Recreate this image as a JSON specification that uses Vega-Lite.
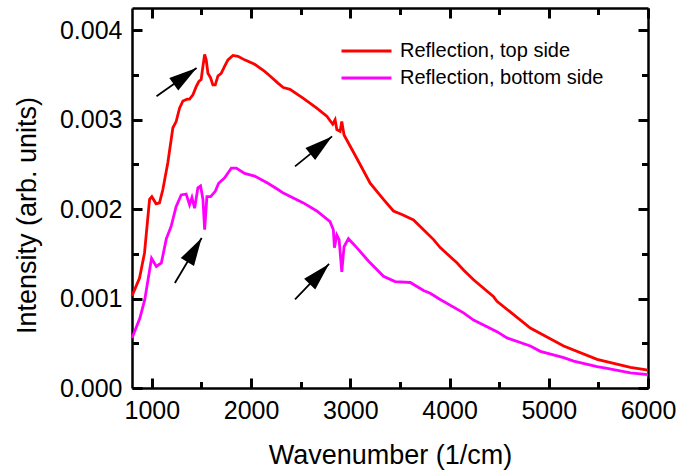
{
  "$schema": "https://vega.github.io/schema/vega-lite/v6.json",
  "width": 516,
  "height": 380,
  "autosize": {"type": "none"},
  "padding": {"left": 132, "top": 8, "right": 30, "bottom": 83},
  "background": "white",
  "config": {
    "view": {"stroke": null},
    "font": "Liberation Sans",
    "axis": {
      "labelFont": "Liberation Sans",
      "titleFont": "Liberation Sans",
      "labelColor": "black",
      "titleColor": "black",
      "titleFontWeight": "normal",
      "domainColor": "black",
      "domainWidth": 2.5,
      "grid": false,
      "labelOverlap": false,
      "labelFlush": false
    }
  },
  "datasets": {
    "spectra": [
      {"wavenumber": 800, "intensity": 0.00103, "series": "Reflection, top side"},
      {"wavenumber": 876, "intensity": 0.00123, "series": "Reflection, top side"},
      {"wavenumber": 926, "intensity": 0.00151, "series": "Reflection, top side"},
      {"wavenumber": 977, "intensity": 0.00211, "series": "Reflection, top side"},
      {"wavenumber": 1000, "intensity": 0.00214, "series": "Reflection, top side"},
      {"wavenumber": 1043, "intensity": 0.00206, "series": "Reflection, top side"},
      {"wavenumber": 1077, "intensity": 0.00207, "series": "Reflection, top side"},
      {"wavenumber": 1111, "intensity": 0.00222, "series": "Reflection, top side"},
      {"wavenumber": 1161, "intensity": 0.00252, "series": "Reflection, top side"},
      {"wavenumber": 1212, "intensity": 0.00291, "series": "Reflection, top side"},
      {"wavenumber": 1245, "intensity": 0.00298, "series": "Reflection, top side"},
      {"wavenumber": 1279, "intensity": 0.00313, "series": "Reflection, top side"},
      {"wavenumber": 1313, "intensity": 0.00321, "series": "Reflection, top side"},
      {"wavenumber": 1356, "intensity": 0.00323, "series": "Reflection, top side"},
      {"wavenumber": 1380, "intensity": 0.00323, "series": "Reflection, top side"},
      {"wavenumber": 1414, "intensity": 0.00328, "series": "Reflection, top side"},
      {"wavenumber": 1447, "intensity": 0.00337, "series": "Reflection, top side"},
      {"wavenumber": 1474, "intensity": 0.00343, "series": "Reflection, top side"},
      {"wavenumber": 1497, "intensity": 0.00345, "series": "Reflection, top side"},
      {"wavenumber": 1515, "intensity": 0.0036, "series": "Reflection, top side"},
      {"wavenumber": 1532, "intensity": 0.00373, "series": "Reflection, top side"},
      {"wavenumber": 1548, "intensity": 0.00367, "series": "Reflection, top side"},
      {"wavenumber": 1565, "intensity": 0.00352, "series": "Reflection, top side"},
      {"wavenumber": 1592, "intensity": 0.00347, "series": "Reflection, top side"},
      {"wavenumber": 1615, "intensity": 0.00339, "series": "Reflection, top side"},
      {"wavenumber": 1639, "intensity": 0.00339, "series": "Reflection, top side"},
      {"wavenumber": 1666, "intensity": 0.00349, "series": "Reflection, top side"},
      {"wavenumber": 1699, "intensity": 0.00352, "series": "Reflection, top side"},
      {"wavenumber": 1734, "intensity": 0.0036, "series": "Reflection, top side"},
      {"wavenumber": 1767, "intensity": 0.00367, "series": "Reflection, top side"},
      {"wavenumber": 1817, "intensity": 0.00372, "series": "Reflection, top side"},
      {"wavenumber": 1868, "intensity": 0.00371, "series": "Reflection, top side"},
      {"wavenumber": 1935, "intensity": 0.00367, "series": "Reflection, top side"},
      {"wavenumber": 2036, "intensity": 0.00362, "series": "Reflection, top side"},
      {"wavenumber": 2137, "intensity": 0.00354, "series": "Reflection, top side"},
      {"wavenumber": 2191, "intensity": 0.00349, "series": "Reflection, top side"},
      {"wavenumber": 2271, "intensity": 0.00341, "series": "Reflection, top side"},
      {"wavenumber": 2325, "intensity": 0.00336, "series": "Reflection, top side"},
      {"wavenumber": 2392, "intensity": 0.00334, "series": "Reflection, top side"},
      {"wavenumber": 2527, "intensity": 0.00324, "series": "Reflection, top side"},
      {"wavenumber": 2662, "intensity": 0.00313, "series": "Reflection, top side"},
      {"wavenumber": 2763, "intensity": 0.00304, "series": "Reflection, top side"},
      {"wavenumber": 2823, "intensity": 0.00295, "series": "Reflection, top side"},
      {"wavenumber": 2847, "intensity": 0.003, "series": "Reflection, top side"},
      {"wavenumber": 2864, "intensity": 0.00289, "series": "Reflection, top side"},
      {"wavenumber": 2897, "intensity": 0.00287, "series": "Reflection, top side"},
      {"wavenumber": 2914, "intensity": 0.00298, "series": "Reflection, top side"},
      {"wavenumber": 2937, "intensity": 0.00283, "series": "Reflection, top side"},
      {"wavenumber": 2981, "intensity": 0.00274, "series": "Reflection, top side"},
      {"wavenumber": 3065, "intensity": 0.00257, "series": "Reflection, top side"},
      {"wavenumber": 3200, "intensity": 0.00229, "series": "Reflection, top side"},
      {"wavenumber": 3334, "intensity": 0.00211, "series": "Reflection, top side"},
      {"wavenumber": 3435, "intensity": 0.00198, "series": "Reflection, top side"},
      {"wavenumber": 3520, "intensity": 0.00194, "series": "Reflection, top side"},
      {"wavenumber": 3637, "intensity": 0.00188, "series": "Reflection, top side"},
      {"wavenumber": 3738, "intensity": 0.00177, "series": "Reflection, top side"},
      {"wavenumber": 3839, "intensity": 0.00166, "series": "Reflection, top side"},
      {"wavenumber": 3906, "intensity": 0.00157, "series": "Reflection, top side"},
      {"wavenumber": 4074, "intensity": 0.0014, "series": "Reflection, top side"},
      {"wavenumber": 4141, "intensity": 0.00132, "series": "Reflection, top side"},
      {"wavenumber": 4242, "intensity": 0.00121, "series": "Reflection, top side"},
      {"wavenumber": 4444, "intensity": 0.00102, "series": "Reflection, top side"},
      {"wavenumber": 4478, "intensity": 0.00097, "series": "Reflection, top side"},
      {"wavenumber": 4646, "intensity": 0.00082, "series": "Reflection, top side"},
      {"wavenumber": 4814, "intensity": 0.00067, "series": "Reflection, top side"},
      {"wavenumber": 5150, "intensity": 0.00047, "series": "Reflection, top side"},
      {"wavenumber": 5487, "intensity": 0.00032, "series": "Reflection, top side"},
      {"wavenumber": 5823, "intensity": 0.00023, "series": "Reflection, top side"},
      {"wavenumber": 6000, "intensity": 0.0002, "series": "Reflection, top side"},

      {"wavenumber": 800, "intensity": 0.00056, "series": "Reflection, bottom side"},
      {"wavenumber": 879, "intensity": 0.00078, "series": "Reflection, bottom side"},
      {"wavenumber": 929, "intensity": 0.00099, "series": "Reflection, bottom side"},
      {"wavenumber": 997, "intensity": 0.00145, "series": "Reflection, bottom side"},
      {"wavenumber": 1045, "intensity": 0.00136, "series": "Reflection, bottom side"},
      {"wavenumber": 1096, "intensity": 0.0014, "series": "Reflection, bottom side"},
      {"wavenumber": 1146, "intensity": 0.00167, "series": "Reflection, bottom side"},
      {"wavenumber": 1195, "intensity": 0.00181, "series": "Reflection, bottom side"},
      {"wavenumber": 1245, "intensity": 0.00203, "series": "Reflection, bottom side"},
      {"wavenumber": 1296, "intensity": 0.00216, "series": "Reflection, bottom side"},
      {"wavenumber": 1346, "intensity": 0.00217, "series": "Reflection, bottom side"},
      {"wavenumber": 1380, "intensity": 0.00205, "series": "Reflection, bottom side"},
      {"wavenumber": 1404, "intensity": 0.00213, "series": "Reflection, bottom side"},
      {"wavenumber": 1431, "intensity": 0.00201, "series": "Reflection, bottom side"},
      {"wavenumber": 1464, "intensity": 0.00224, "series": "Reflection, bottom side"},
      {"wavenumber": 1491, "intensity": 0.00226, "series": "Reflection, bottom side"},
      {"wavenumber": 1515, "intensity": 0.00211, "series": "Reflection, bottom side"},
      {"wavenumber": 1532, "intensity": 0.00177, "series": "Reflection, bottom side"},
      {"wavenumber": 1555, "intensity": 0.00214, "series": "Reflection, bottom side"},
      {"wavenumber": 1592, "intensity": 0.00214, "series": "Reflection, bottom side"},
      {"wavenumber": 1639, "intensity": 0.0022, "series": "Reflection, bottom side"},
      {"wavenumber": 1673, "intensity": 0.00229, "series": "Reflection, bottom side"},
      {"wavenumber": 1734, "intensity": 0.00235, "series": "Reflection, bottom side"},
      {"wavenumber": 1801, "intensity": 0.00246, "series": "Reflection, bottom side"},
      {"wavenumber": 1851, "intensity": 0.00246, "series": "Reflection, bottom side"},
      {"wavenumber": 1935, "intensity": 0.0024, "series": "Reflection, bottom side"},
      {"wavenumber": 2036, "intensity": 0.00237, "series": "Reflection, bottom side"},
      {"wavenumber": 2170, "intensity": 0.00229, "series": "Reflection, bottom side"},
      {"wavenumber": 2271, "intensity": 0.00222, "series": "Reflection, bottom side"},
      {"wavenumber": 2325, "intensity": 0.00218, "series": "Reflection, bottom side"},
      {"wavenumber": 2527, "intensity": 0.00207, "series": "Reflection, bottom side"},
      {"wavenumber": 2662, "intensity": 0.00198, "series": "Reflection, bottom side"},
      {"wavenumber": 2796, "intensity": 0.00186, "series": "Reflection, bottom side"},
      {"wavenumber": 2829, "intensity": 0.00177, "series": "Reflection, bottom side"},
      {"wavenumber": 2840, "intensity": 0.00157, "series": "Reflection, bottom side"},
      {"wavenumber": 2864, "intensity": 0.00171, "series": "Reflection, bottom side"},
      {"wavenumber": 2887, "intensity": 0.00166, "series": "Reflection, bottom side"},
      {"wavenumber": 2914, "intensity": 0.0013, "series": "Reflection, bottom side"},
      {"wavenumber": 2937, "intensity": 0.00158, "series": "Reflection, bottom side"},
      {"wavenumber": 2981, "intensity": 0.00167, "series": "Reflection, bottom side"},
      {"wavenumber": 3065, "intensity": 0.00157, "series": "Reflection, bottom side"},
      {"wavenumber": 3167, "intensity": 0.00144, "series": "Reflection, bottom side"},
      {"wavenumber": 3200, "intensity": 0.0014, "series": "Reflection, bottom side"},
      {"wavenumber": 3334, "intensity": 0.00125, "series": "Reflection, bottom side"},
      {"wavenumber": 3452, "intensity": 0.00119, "series": "Reflection, bottom side"},
      {"wavenumber": 3604, "intensity": 0.00118, "series": "Reflection, bottom side"},
      {"wavenumber": 3738, "intensity": 0.00109, "series": "Reflection, bottom side"},
      {"wavenumber": 3805, "intensity": 0.00106, "series": "Reflection, bottom side"},
      {"wavenumber": 3906, "intensity": 0.00099, "series": "Reflection, bottom side"},
      {"wavenumber": 4141, "intensity": 0.00084, "series": "Reflection, bottom side"},
      {"wavenumber": 4242, "intensity": 0.00076, "series": "Reflection, bottom side"},
      {"wavenumber": 4478, "intensity": 0.00063, "series": "Reflection, bottom side"},
      {"wavenumber": 4579, "intensity": 0.00056, "series": "Reflection, bottom side"},
      {"wavenumber": 4814, "intensity": 0.00047, "series": "Reflection, bottom side"},
      {"wavenumber": 4915, "intensity": 0.00041, "series": "Reflection, bottom side"},
      {"wavenumber": 5150, "intensity": 0.00034, "series": "Reflection, bottom side"},
      {"wavenumber": 5251, "intensity": 0.0003, "series": "Reflection, bottom side"},
      {"wavenumber": 5487, "intensity": 0.00024, "series": "Reflection, bottom side"},
      {"wavenumber": 5588, "intensity": 0.00022, "series": "Reflection, bottom side"},
      {"wavenumber": 5823, "intensity": 0.00017, "series": "Reflection, bottom side"},
      {"wavenumber": 6000, "intensity": 0.00015, "series": "Reflection, bottom side"}
    ],
    "arrows": [
      {"fromX": 1047, "fromY": 0.003262, "toX": 1451, "toY": 0.003579, "angle": 54.6},
      {"fromX": 2443, "fromY": 0.002479, "toX": 2816, "toY": 0.002814, "angle": 51},
      {"fromX": 1232, "fromY": 0.001174, "toX": 1502, "toY": 0.001678, "angle": 30.7},
      {"fromX": 2443, "fromY": 0.000991, "toX": 2786, "toY": 0.001387, "angle": 43.8}
    ]
  },
  "layer": [
    {
      "data": {"name": "spectra"},
      "transform": [{"filter": "datum.series === 'Reflection, top side'"}],
      "mark": {"type": "line", "strokeWidth": 2.8},
      "encoding": {
        "x": {
          "field": "wavenumber",
          "type": "quantitative",
          "scale": {"domain": [800, 6000], "nice": false, "zero": false},
          "axis": {
            "orient": "bottom",
            "title": "Wavenumber (1/cm)",
            "titleFontSize": 27,
            "titleBaseline": "alphabetic",
            "titleY": 75,
            "values": [1000, 2000, 3000, 4000, 5000, 6000],
            "format": "d",
            "labelFontSize": 25,
            "ticks": true, "tickColor": "black", "tickWidth": 3, "tickSize": -10,
            "labelPadding": 20
          }
        },
        "y": {
          "field": "intensity",
          "type": "quantitative",
          "scale": {"domain": [0, 0.00425], "nice": false},
          "axis": {
            "orient": "left",
            "title": "Intensity (arb. units)",
            "titleFontSize": 27,
            "titleX": -105,
            "titleY": 207,
            "titleAngle": -90,
            "titleBaseline": "middle",
            "values": [0, 0.001, 0.002, 0.003, 0.004],
            "format": ".3f",
            "labelFontSize": 25,
            "ticks": true, "tickColor": "black", "tickWidth": 3, "tickSize": -10,
            "labelPadding": 20
          }
        },
        "color": {
          "field": "series",
          "type": "nominal",
          "sort": ["Reflection, top side", "Reflection, bottom side"],
          "scale": {"domain": ["Reflection, top side", "Reflection, bottom side"], "range": ["#ff0000", "#ff00ff"]},
          "legend": {
            "title": null,
            "orient": "none",
            "legendX": 208,
            "legendY": 33,
            "padding": 0,
            "symbolType": "stroke",
            "symbolSize": 2500,
            "symbolStrokeWidth": 3,
            "clipHeight": 20,
            "labelFont": "Liberation Sans",
            "labelFontSize": 20,
            "labelColor": "black",
            "labelOffset": 7,
            "labelLimit": 400,
            "rowPadding": 7
          }
        }
      }
    },
    {
      "data": {"name": "spectra"},
      "transform": [{"filter": "datum.series === 'Reflection, bottom side'"}],
      "mark": {"type": "line", "strokeWidth": 2.8},
      "encoding": {
        "x": {
          "field": "wavenumber",
          "type": "quantitative",
          "scale": {"domain": [800, 6000], "nice": false, "zero": false},
          "axis": {"orient": "bottom", "title": null, "labels": false, "domain": false, "values": [1500, 2500, 3500, 4500, 5500], "ticks": true, "tickColor": "black", "tickWidth": 3, "tickSize": -6.5}
        },
        "y": {
          "field": "intensity",
          "type": "quantitative",
          "scale": {"domain": [0, 0.00425], "nice": false},
          "axis": {"orient": "left", "title": null, "labels": false, "domain": false, "values": [0.0005, 0.0015, 0.0025, 0.0035], "ticks": true, "tickColor": "black", "tickWidth": 3, "tickSize": -6.5}
        },
        "color": {
          "field": "series",
          "type": "nominal",
          "sort": ["Reflection, top side", "Reflection, bottom side"],
          "scale": {"domain": ["Reflection, top side", "Reflection, bottom side"], "range": ["#ff0000", "#ff00ff"]}
        }
      }
    },
    {
      "data": {"name": "arrows"},
      "mark": {"type": "rule", "color": "black", "strokeWidth": 1.8},
      "encoding": {
        "x": {
          "field": "fromX",
          "type": "quantitative",
          "scale": {"domain": [800, 6000], "nice": false, "zero": false},
          "axis": {"orient": "top", "title": null, "labels": false, "values": [1000, 2000, 3000, 4000, 5000, 6000], "ticks": true, "tickColor": "black", "tickWidth": 3, "tickSize": -10}
        },
        "x2": {"field": "toX"},
        "y": {
          "field": "fromY",
          "type": "quantitative",
          "scale": {"domain": [0, 0.00425], "nice": false},
          "axis": {"orient": "right", "title": null, "labels": false, "values": [0, 0.001, 0.002, 0.003, 0.004], "ticks": true, "tickColor": "black", "tickWidth": 3, "tickSize": -10}
        },
        "y2": {"field": "toY"}
      }
    },
    {
      "data": {"name": "arrows"},
      "mark": {"type": "point", "shape": "M0,0L-0.55,2L0.55,2Z", "filled": true, "size": 784, "color": "black", "opacity": 1},
      "encoding": {
        "x": {
          "field": "toX",
          "type": "quantitative",
          "scale": {"domain": [800, 6000], "nice": false, "zero": false},
          "axis": {"orient": "top", "title": null, "labels": false, "domain": false, "values": [1500, 2500, 3500, 4500, 5500], "ticks": true, "tickColor": "black", "tickWidth": 3, "tickSize": -6.5}
        },
        "y": {
          "field": "toY",
          "type": "quantitative",
          "scale": {"domain": [0, 0.00425], "nice": false},
          "axis": {"orient": "right", "title": null, "labels": false, "domain": false, "values": [0.0005, 0.0015, 0.0025, 0.0035], "ticks": true, "tickColor": "black", "tickWidth": 3, "tickSize": -6.5}
        },
        "angle": {"field": "angle", "type": "quantitative", "scale": null}
      }
    }
  ],
  "resolve": {"axis": {"x": "independent", "y": "independent"}}
}
